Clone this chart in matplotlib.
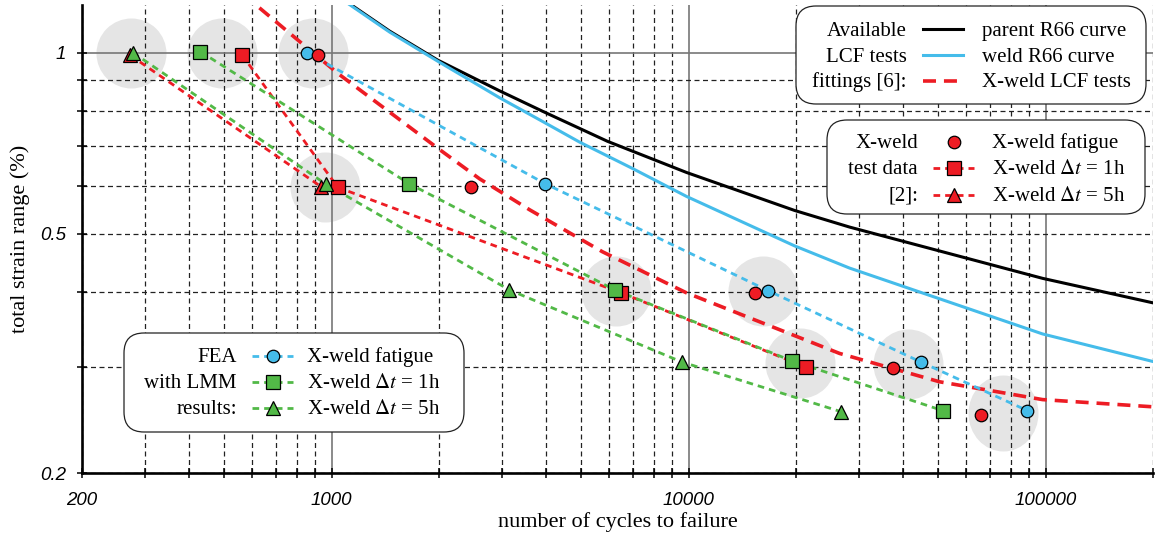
import matplotlib
matplotlib.use('Agg')
import matplotlib.pyplot as plt
import matplotlib.ticker as mticker
from matplotlib.lines import Line2D
from matplotlib.patches import FancyBboxPatch
from matplotlib.path import Path
from matplotlib.transforms import Affine2D

plt.rcParams['font.family'] = ['Liberation Serif', 'DejaVu Serif']
plt.rcParams['mathtext.fontset'] = 'stix'

RED = '#ED1C24'
BLUE = '#45BCEA'
GREEN = '#52B947'
SHADE = '#e5e5e5'

# fitted curves
parent_n = [1123, 1454, 1982, 2955, 3952, 5932, 9873, 19815, 28250, 98100, 199400]
parent_strain = [1.206, 1.086, 0.972, 0.864, 0.796, 0.712, 0.632, 0.5465, 0.5128, 0.4214, 0.3838]
weld_n = [1123, 1454, 1982, 2955, 3952, 4951, 6922, 9873, 19815, 28250, 98100, 199400]
weld_strain = [1.202, 1.082, 0.968, 0.8415, 0.765, 0.710, 0.643, 0.5766, 0.4772, 0.4383, 0.3406, 0.3066]
lcf_n = [628, 914, 1053, 1550, 2007, 2597, 3586, 5741, 9873, 26490, 50480, 98100, 199400]
lcf_strain = [1.187, 0.985, 0.919, 0.774, 0.690, 0.617, 0.548, 0.4665, 0.3986, 0.3161, 0.2836,
              0.2649, 0.2577]

# X-weld test data
test_fat_n = [914, 2466, 15400, 37500, 65800]
test_fat_strain = [0.992, 0.598, 0.399, 0.299, 0.25]
test_1h_n = [561, 1041, 6450, 21300]
test_1h_strain = [0.992, 0.597, 0.399, 0.300]
test_5h_n = [273, 937]
test_5h_strain = [0.99, 0.598]

# FEA with LMM results
fea_fat_n = [851, 3975, 16700, 44700, 88900]
fea_fat_strain = [1.0, 0.605, 0.402, 0.306, 0.254]
fea_1h_n = [429, 1653, 6220, 19540, 51500]
fea_1h_strain = [1.004, 0.605, 0.403, 0.307, 0.254]
fea_5h_n = [278, 962, 3150, 9570, 26700]
fea_5h_strain = [1.0, 0.605, 0.403, 0.306, 0.253]

# grey highlight spots
spot_n = [275, 492, 885, 956, 6280, 16200, 20500, 41300]
spot_strain = [1.0, 1.0, 1.0, 0.598, 0.401, 0.401, 0.305, 0.304]
oval_n = [75900]
oval_strain = [0.252]

fig = plt.figure(figsize=(11.56, 5.4), dpi=100)
ax = fig.add_axes([82 / 1156, 67 / 540, 1071 / 1156, 468 / 540])
ax.set_xscale('log')
ax.set_yscale('log')
ax.set_xlim(200, 200000)
ax.set_ylim(0.2, 1.2)

ax.xaxis.set_major_locator(mticker.FixedLocator([1000, 10000, 100000]))
ax.xaxis.set_minor_locator(mticker.LogLocator(base=10, subs=range(2, 10)))
ax.xaxis.set_major_formatter(mticker.FuncFormatter(lambda v, p: f'{v:.0f}'))
ax.xaxis.set_minor_formatter(mticker.FuncFormatter(lambda v, p: '200' if abs(v - 200) < 1 else ''))
ax.yaxis.set_major_locator(mticker.FixedLocator([1.0]))
ax.yaxis.set_minor_locator(mticker.FixedLocator([0.2, 0.3, 0.4, 0.5, 0.6, 0.7, 0.8, 0.9]))
ax.yaxis.set_major_formatter(mticker.FuncFormatter(lambda v, p: '1'))
ax.yaxis.set_minor_formatter(mticker.FuncFormatter(
    lambda v, p: {0.2: '0.2', 0.5: '0.5'}.get(round(v, 2), '')))

ax.set_axisbelow(True)
ax.grid(which='major', color='#777777', lw=1.2, ls='-')
ax.grid(which='minor', color='#222222', lw=0.9, ls=(0, (4, 2.8)))
for s in ['top', 'right']:
    ax.spines[s].set_visible(False)
for s in ['left', 'bottom']:
    ax.spines[s].set_linewidth(1.9)
ax.tick_params(which='both', direction='inout', length=7, width=1.1, color='black')
ax.tick_params(axis='x', which='both', pad=10)
ax.tick_params(axis='y', which='both', pad=8)
for lab in ax.get_xticklabels(which='both') + ax.get_yticklabels(which='both'):
    lab.set_family('Liberation Sans')
    lab.set_style('italic')
    lab.set_fontsize(13.5)

ax.set_xlabel('number of cycles to failure', fontsize=16)
ax.set_ylabel('total strain range (%)', fontsize=16)
ax.xaxis.set_label_coords(0.5, -0.083)
ax.yaxis.set_label_coords(-0.049, 0.5)

# grey spots behind the grid
ax.scatter(spot_n, spot_strain, s=50.4 ** 2, color=SHADE, lw=0, zorder=0.3)
oval = Path.unit_circle().transformed(Affine2D().scale(70 / 76, 1))
ax.scatter(oval_n, oval_strain, s=54.7 ** 2, marker=oval, color=SHADE, lw=0, zorder=0.3)

# fitted curves
ax.plot(parent_n, parent_strain, color='black', lw=2.2, zorder=3)
ax.plot(weld_n, weld_strain, color=BLUE, lw=2.2, zorder=3)
ax.plot(lcf_n, lcf_strain, color=RED, lw=2.6, ls=(0, (3.6, 2.2)), zorder=3)

dot = (0, (2.4, 1.8))
ax.plot(test_1h_n, test_1h_strain, color=RED, lw=2, ls=dot, zorder=3)
ax.plot(test_5h_n, test_5h_strain, color=RED, lw=2, ls=dot, zorder=3)
ax.plot(fea_fat_n, fea_fat_strain, color=BLUE, lw=2, ls=dot, zorder=3)
ax.plot(fea_1h_n, fea_1h_strain, color=GREEN, lw=2, ls=dot, zorder=3)
ax.plot(fea_5h_n, fea_5h_strain, color=GREEN, lw=2, ls=dot, zorder=3)

mk = dict(ls='none', mec='black', mew=0.9, zorder=5)
ax.plot(test_5h_n, test_5h_strain, marker='^', ms=10.5, mfc=RED, **mk)
ax.plot(test_1h_n, test_1h_strain, marker='s', ms=9.5, mfc=RED, **mk)
ax.plot(fea_fat_n, fea_fat_strain, marker='o', ms=9, mfc=BLUE, **mk)
ax.plot(test_fat_n, test_fat_strain, marker='o', ms=9, mfc=RED, **mk)
ax.plot(fea_1h_n, fea_1h_strain, marker='s', ms=9.5, mfc=GREEN, **mk)
ax.plot(fea_5h_n, fea_5h_strain, marker='^', ms=10.5, mfc=GREEN, **mk)

# legend boxes, laid out in pixels of the 1156x540 picture
tr = fig.dpi_scale_trans
FS = 15


def px(x, y):
    return x / 100, (540 - y) / 100


def legend_box(x0, y0, x1, y1, titles, title_x, hx0, hx1, label_x, rows, baselines):
    bx, by = px(x0, y1)
    fig.add_artist(FancyBboxPatch((bx, by), (x1 - x0) / 100, (y1 - y0) / 100,
                                  boxstyle='round,pad=0,rounding_size=0.2',
                                  transform=tr, fc='white', ec='#222222', lw=0.9, zorder=10))
    for title, (label, line_kw, marker_kw), b in zip(titles, rows, baselines):
        tx, ty = px(title_x, b)
        fig.text(tx, ty, title, ha='right', va='baseline', fontsize=FS, transform=tr, zorder=11)
        lx, ly = px(label_x, b)
        fig.text(lx, ly, label, ha='left', va='baseline', fontsize=FS, transform=tr, zorder=11)
        yh = (540 - (b - 6.5)) / 100
        if line_kw:
            fig.add_artist(Line2D([hx0 / 100, hx1 / 100], [yh, yh], transform=tr, zorder=11, **line_kw))
        if marker_kw:
            fig.add_artist(Line2D([(hx0 + hx1) / 200], [yh], transform=tr, ls='none',
                                  mec='black', mew=0.9, zorder=12, **marker_kw))


legend_box(796, 6, 1146, 104, ['Available', 'LCF tests', 'fittings [6]:'], 907, 923, 963, 982,
           [('parent R66 curve', dict(color='black', lw=2.2), None),
            ('weld R66 curve', dict(color=BLUE, lw=2.2), None),
            ('X-weld LCF tests', dict(color=RED, lw=2.6, ls=(0, (3.6, 2.2))), None)],
           [36, 61.5, 87])

legend_box(827, 120, 1145, 214, ['X-weld', 'test data', '[2]:'], 918, 933, 974, 992,
           [('X-weld fatigue', None, dict(marker='o', ms=9, mfc=RED)),
            (r'X-weld $\Delta t$ = 1h', dict(color=RED, lw=2, ls=dot), dict(marker='s', ms=9.5, mfc=RED)),
            (r'X-weld $\Delta t$ = 5h', dict(color=RED, lw=2, ls=dot), dict(marker='^', ms=10.5, mfc=RED))],
           [148, 174.5, 201])

legend_box(124, 333, 464, 432, ['FEA', 'with LMM', 'results:'], 237, 252, 293, 307,
           [('X-weld fatigue', dict(color=BLUE, lw=2, ls=dot), dict(marker='o', ms=9, mfc=BLUE)),
            (r'X-weld $\Delta t$ = 1h', dict(color=GREEN, lw=2, ls=dot), dict(marker='s', ms=9.5, mfc=GREEN)),
            (r'X-weld $\Delta t$ = 5h', dict(color=GREEN, lw=2, ls=dot), dict(marker='^', ms=10.5, mfc=GREEN))],
           [362, 388, 414])

fig.savefig('out.png', dpi=100)
